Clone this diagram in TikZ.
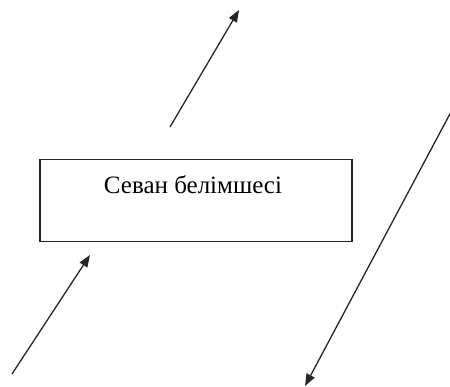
\documentclass[tikz,border=0pt]{standalone}
\usepackage{fontspec}
\setmainfont{Liberation Serif}
\usetikzlibrary{arrows.meta}
\begin{document}
\begin{tikzpicture}[x=1pt,y=-1pt,
  boxstyle/.style={draw=black!85,line width=1.4pt,minimum width=312pt,minimum height=82pt,inner sep=0pt},
  arr/.style={draw=black!85,line width=1.3pt,-{Triangle[length=12pt,width=9pt]}},
  lbl/.style={font=\fontsize{25}{28}\selectfont,inner sep=0pt}]
\useasboundingbox (0,0) rectangle (450,387);
\node[boxstyle] (box) at (196,200.5) {};
\node[lbl] (txt) at (193,185) {Севан белімшесі};
\coordinate (a1s) at (170,127);
\coordinate (a1e) at (239,10);
\coordinate (a2s) at (12,374);
\coordinate (a2e) at (90,255);
\coordinate (a3s) at (452,110);
\coordinate (a3e) at (305,386);
\draw[arr] (a1s) -- (a1e);
\draw[arr] (a2s) -- (a2e);
\draw[arr] (a3s) -- (a3e);
\end{tikzpicture}
\end{document}
